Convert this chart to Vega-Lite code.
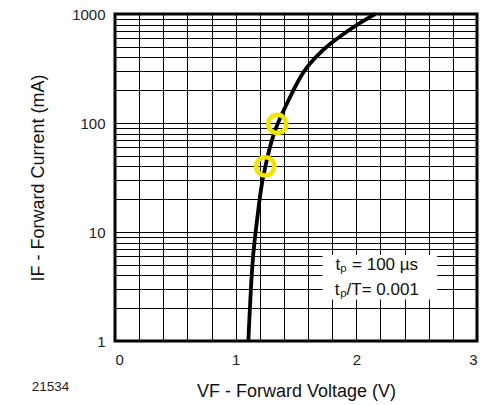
{
  "$schema": "https://vega.github.io/schema/vega-lite/v6.json",
  "width": 362,
  "height": 327,
  "autosize": "none",
  "padding": {"left": 115, "top": 14, "right": 20, "bottom": 64},
  "background": "white",
  "config": {
    "view": {"stroke": "black", "strokeWidth": 3},
    "font": "Liberation Sans"
  },
  "title": {
    "text": "21534",
    "orient": "bottom",
    "anchor": "start",
    "frame": "bounds",
    "offset": -20,
    "dx": 2,
    "fontSize": 13.5,
    "fontWeight": "normal",
    "color": "#222222"
  },
  "datasets": {
    "curve": [
      {"V": 1.105, "I": 1},
      {"V": 1.135, "I": 5},
      {"V": 1.16, "I": 9},
      {"V": 1.178, "I": 13},
      {"V": 1.198, "I": 20},
      {"V": 1.215, "I": 27},
      {"V": 1.245, "I": 40},
      {"V": 1.3, "I": 72},
      {"V": 1.35, "I": 100},
      {"V": 1.385, "I": 122},
      {"V": 1.43, "I": 155},
      {"V": 1.479, "I": 201},
      {"V": 1.534, "I": 263},
      {"V": 1.589, "I": 325},
      {"V": 1.672, "I": 415},
      {"V": 1.783, "I": 535},
      {"V": 1.921, "I": 690},
      {"V": 2.0, "I": 790},
      {"V": 2.156, "I": 1000}
    ],
    "marks": [
      {"V": 1.245, "I": 40},
      {"V": 1.345, "I": 98}
    ],
    "box": [
      {"V": 1.72, "V2": 2.67, "I": 2.4, "I2": 6.2}
    ],
    "notes": [
      {"V": 2.17, "I": 5.0, "label": "tₚ = 100 µs"},
      {"V": 2.17, "I": 2.93, "label": "tₚ/T= 0.001"}
    ]
  },
  "encoding": {
    "x": {
      "field": "V",
      "type": "quantitative",
      "scale": {"domain": [0, 3], "nice": false, "zero": false},
      "axis": {
        "title": "VF - Forward Voltage (V)",
        "values": [0, 0.2, 0.4, 0.6, 0.8, 1, 1.2, 1.4, 1.6, 1.8, 2, 2.2, 2.4, 2.6, 2.8, 3],
        "labelExpr": "abs(datum.value - round(datum.value)) < 0.01 ? format(datum.value, 'd') : ''",
        "grid": true,
        "gridColor": "black",
        "gridOpacity": 1,
        "gridWidth": 1,
        "ticks": false,
        "domain": false,
        "labelFontSize": 15,
        "labelColor": "#222222",
        "labelPadding": 11,
        "titleFontSize": 18,
        "titleFontWeight": "normal",
        "titleColor": "#111111",
        "titlePadding": 15
      }
    },
    "y": {
      "field": "I",
      "type": "quantitative",
      "scale": {"type": "log", "domain": [1, 1000], "nice": false},
      "axis": {
        "title": "IF - Forward Current (mA)",
        "values": [1, 2, 3, 4, 5, 6, 7, 8, 9, 10, 20, 30, 40, 50, 60, 70, 80, 90, 100, 200, 300, 400, 500, 600, 700, 800, 900, 1000],
        "labelExpr": "indexof([1, 10, 100, 1000], datum.value) >= 0 ? format(datum.value, 'd') : ''",
        "grid": true,
        "gridColor": "black",
        "gridOpacity": 1,
        "gridWidth": 1,
        "ticks": false,
        "domain": false,
        "labelFontSize": 15,
        "labelColor": "#222222",
        "labelPadding": 10,
        "titleFontSize": 18,
        "titleFontWeight": "normal",
        "titleColor": "#111111",
        "titlePadding": 24
      }
    }
  },
  "layer": [
    {
      "data": {"name": "box"},
      "mark": {"type": "rect", "fill": "white", "stroke": null},
      "encoding": {
        "x2": {"field": "V2"},
        "y2": {"field": "I2"}
      }
    },
    {
      "data": {"name": "curve"},
      "mark": {"type": "line", "color": "black", "strokeWidth": 3.8, "interpolate": "basis"}
    },
    {
      "data": {"name": "marks"},
      "mark": {"type": "point", "shape": "circle", "filled": false, "stroke": "#f0e400", "strokeWidth": 4.5, "size": 330, "opacity": 1}
    },
    {
      "data": {"name": "notes"},
      "mark": {"type": "text", "fontSize": 17, "color": "#111111", "align": "center", "baseline": "middle"},
      "encoding": {"text": {"field": "label"}}
    }
  ]
}
